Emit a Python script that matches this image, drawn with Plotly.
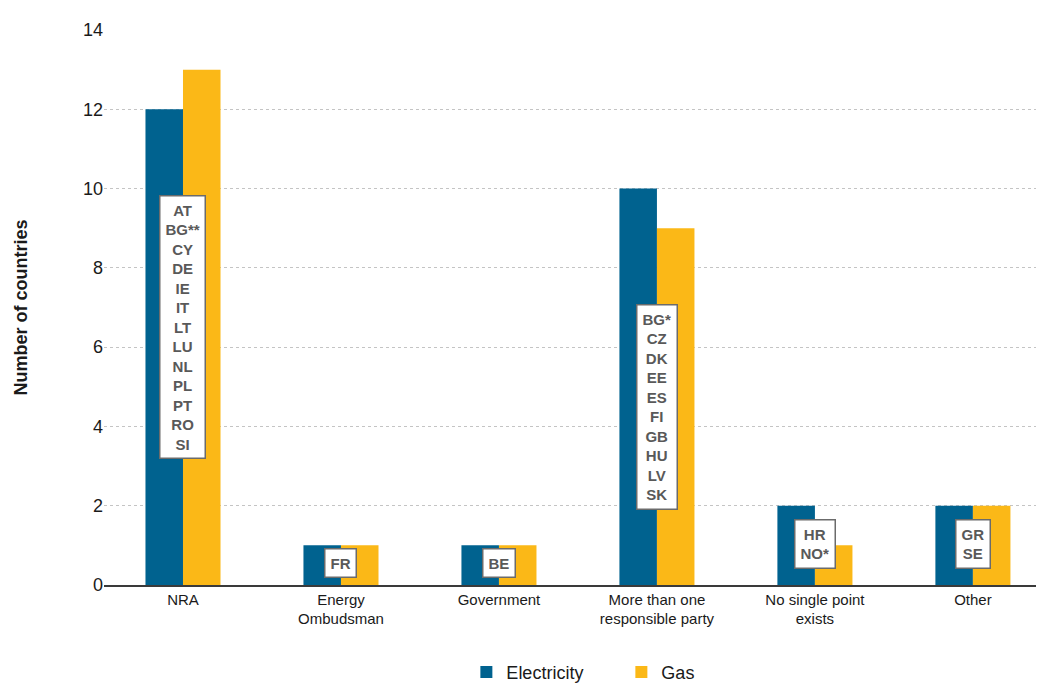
import plotly.graph_objects as go

categories = ["NRA", "Energy<br>Ombudsman", "Government", "More than one<br>responsible party",
              "No single point<br>exists", "Other"]
electricity = [12, 1, 1, 10, 2, 2]
gas = [13, 1, 1, 9, 1, 2]
country_labels = [
    ["AT", "BG**", "CY", "DE", "IE", "IT", "LT", "LU", "NL", "PL", "PT", "RO", "SI"],
    ["FR"],
    ["BE"],
    ["BG*", "CZ", "DK", "EE", "ES", "FI", "GB", "HU", "LV", "SK"],
    ["HR", "NO*"],
    ["GR", "SE"],
]
y_ticks = [0, 2, 4, 6, 8, 10, 12, 14]

# annotation placement (layout only)
label_centers = [6.5, 0.55, 0.55, 4.5, 1.03, 1.03]

ELEC = "#00628F"
GAS = "#FBB817"
FONT = "Liberation Sans Narrow, Arial Narrow, Liberation Sans, Arial, sans-serif"

fig = go.Figure()
fig.add_trace(go.Bar(name="Electricity", x=categories, y=electricity, marker_color=ELEC,
                     marker_line_width=0))
fig.add_trace(go.Bar(name="Gas", x=categories, y=gas, marker_color=GAS, marker_line_width=0))

for cat, labs, yc in zip(categories, country_labels, label_centers):
    txt = "<br>".join(f"<b>{l}</b>" for l in labs)
    fig.add_annotation(x=cat, y=yc, xref="x", yref="y", text=txt, showarrow=False,
                       font=dict(family=FONT, size=15, color="#595959"),
                       bgcolor="white", bordercolor="#6b6b6b", borderwidth=1.5, borderpad=5)

fig.update_layout(
    width=1036, height=678,
    margin=dict(l=96, r=0, t=22, b=101, autoexpand=False),
    paper_bgcolor="white", plot_bgcolor="white",
    barmode="group", bargap=0.525, bargroupgap=0,
    font=dict(family=FONT, size=16, color="#1a1a1a"),
    showlegend=True,
    legend=dict(orientation="h", x=0.3855, xanchor="left", y=-0.124, yanchor="top",
                font=dict(family=FONT, size=18, color="#1a1a1a"), entrywidth=110,
                traceorder="normal"),
    xaxis=dict(range=[-0.5, 5.45], showgrid=False, showline=True, linecolor="#3a3a3a",
               linewidth=1.5, ticks="", tickfont=dict(family=FONT, size=15, color="#1a1a1a"),
               zeroline=False, automargin=False),
    yaxis=dict(range=[0, 14], tickvals=y_ticks, showgrid=True, gridcolor="#c4c4c4",
               griddash="dot", gridwidth=1, zeroline=False, showline=False, ticks="",
               automargin=False,
               tickfont=dict(family=FONT, size=18, color="#1a1a1a"),
               title=dict(text="<b>Number of countries</b>", standoff=50,
                          font=dict(family=FONT, size=18, color="#1a1a1a"))),
)

fig.write_html("out.html")
